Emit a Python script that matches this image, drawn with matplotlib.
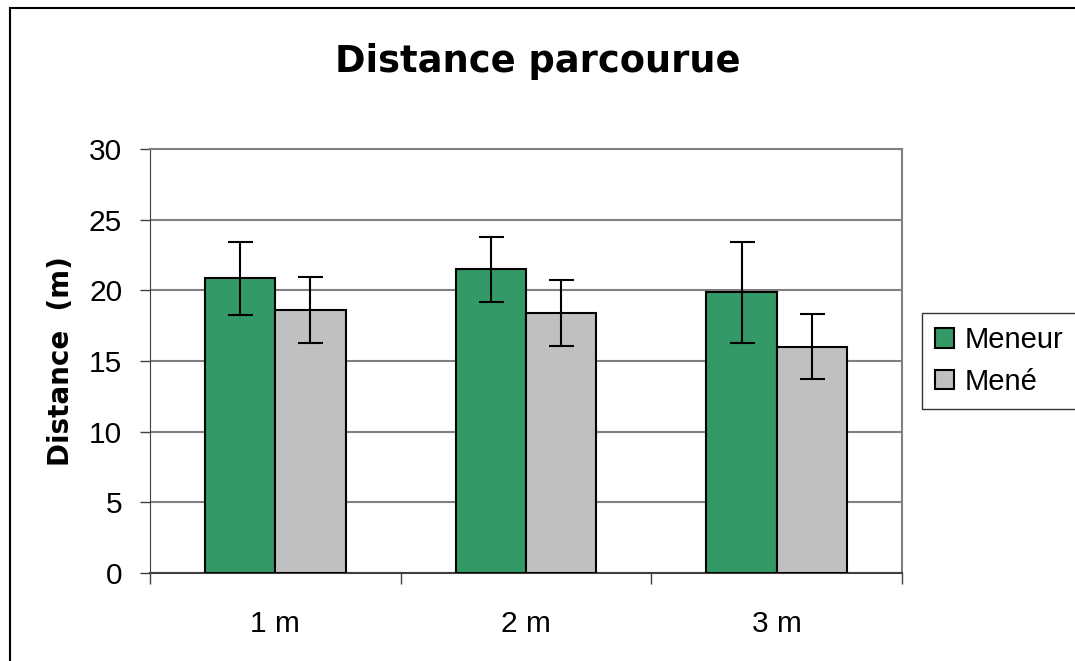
import numpy as np
import matplotlib.pyplot as plt
from matplotlib.patches import Rectangle

plt.rcParams['font.family'] = ['Liberation Sans', 'DejaVu Sans']

categories = ["1 m", "2 m", "3 m"]
meneur = [20.85, 21.5, 19.85]
meneur_err = [2.6, 2.3, 3.6]
mene = [18.6, 18.4, 16.0]
mene_err = [2.35, 2.35, 2.3]

fig = plt.figure(figsize=(10.75, 6.61), dpi=100)
ax = fig.add_axes([150/1075, 1 - 573/661, 752/1075, 424/661])

x = np.arange(len(categories))
w = 0.28
ekw = dict(ecolor='black', elinewidth=1.5, capsize=9, capthick=1.5)
ax.bar(x - w/2, meneur, w, yerr=meneur_err, color='#339966', edgecolor='black',
       linewidth=1.5, label='Meneur', error_kw=ekw, zorder=3)
ax.bar(x + w/2, mene, w, yerr=mene_err, color='#c0c0c0', edgecolor='black',
       linewidth=1.5, label='Mené', error_kw=ekw, zorder=3)

ax.set_xlim(-0.5, 2.5)
ax.set_ylim(0, 30)
ax.set_yticks(range(0, 31, 5))
ax.yaxis.grid(True, color='#808080', linewidth=1.5, zorder=0)
ax.set_xticks([-0.5, 0.5, 1.5, 2.5])
ax.set_xticklabels([])
ax.set_xticks(x, minor=True)
ax.set_xticklabels(categories, minor=True)
ax.tick_params(axis='x', which='major', length=8, width=1, color='#404040', direction='out')
ax.tick_params(axis='x', which='minor', length=0, pad=27, labelsize=21.5)
ax.tick_params(axis='y', length=7, width=1, color='#404040', labelsize=21.5, pad=13)
for s in ['top', 'right']:
    ax.spines[s].set_color('#808080')
    ax.spines[s].set_linewidth(1.5)
ax.spines['left'].set_color('#404040')
ax.spines['bottom'].set_color('#404040')
ax.spines['bottom'].set_linewidth(1.5)

ax.set_ylabel('Distance  (m)', fontsize=20, fontweight='bold', labelpad=10,
              family=['DejaVu Sans'])
fig.text(0.5, 1 - 62/661, 'Distance parcourue', ha='center', va='center',
         fontsize=26.5, fontweight='bold', family=['DejaVu Sans'])

leg = ax.legend(loc='center left', bbox_to_anchor=(922/1075, 1 - 361/661),
                bbox_transform=fig.transFigure, fontsize=21, frameon=True,
                fancybox=False, edgecolor='black', handlelength=0.65,
                handleheight=0.65, handletextpad=0.35, borderpad=0.45,
                labelspacing=0.45, borderaxespad=0)
leg.get_frame().set_linewidth(1)

fig.patches.append(Rectangle((10/1075, -0.1), 1.2, 1 - 8/661 + 0.1,
                             transform=fig.transFigure, fill=False,
                             edgecolor='black', linewidth=1.5))

plt.savefig("out.png")
